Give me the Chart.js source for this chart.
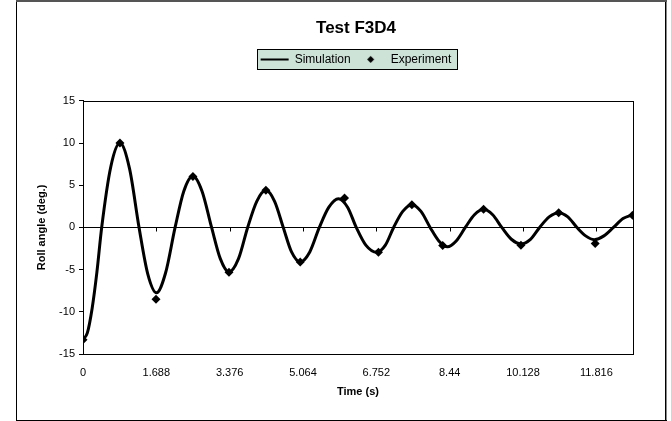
<!DOCTYPE html>
<html><head><meta charset="utf-8">
<script src="https://cdn.jsdelivr.net/npm/chart.js@4/dist/chart.umd.min.js"></script>
<style>html,body{margin:0;padding:0;background:#fff;}#wrap{width:671px;height:421px;position:relative;}canvas{display:block;}</style>
</head><body><div id="wrap"><canvas id="c" width="671" height="421"></canvas></div>
<script>
const chartTitle = 'Test F3D4';
const xTitle = 'Time (s)';
const yTitle = 'Roll angle (deg.)';
const seriesNames = ['Simulation', 'Experiment'];

const simTime = [0, 0.1, 0.21, 0.32, 0.43, 0.64, 0.85, 1.07, 1.29, 1.49, 1.69, 1.90, 2.12, 2.32, 2.53, 2.74, 2.96, 3.16, 3.36, 3.58, 3.79, 4.00, 4.21, 4.41, 4.61, 4.80, 5.00, 5.22, 5.44, 5.66, 5.88, 6.09, 6.29, 6.51, 6.76, 6.96, 7.15, 7.36, 7.57, 7.78, 7.99, 8.19, 8.39, 8.59, 8.80, 9.01, 9.22, 9.43, 9.64, 9.86, 10.08, 10.30, 10.51, 10.73, 10.95, 11.16, 11.37, 11.57, 11.77, 11.99, 12.21, 12.43, 12.65];
const simAngle = [-13.3, -12.5, -9.6, -5.3, 0, 7.2, 10.0, 7.0, 0, -5.5, -7.75, -5.4, 0, 4.3, 6.1, 4.3, 0, -3.7, -5.3, -3.7, 0, 3.1, 4.4, 3.1, 0, -2.9, -4.1, -2.9, 0, 2.4, 3.4, 2.4, 0, -2.1, -2.95, -2.1, 0, 1.9, 2.7, 1.9, 0, -1.6, -2.3, -1.6, 0, 1.5, 2.15, 1.5, 0, -1.4, -1.95, -1.4, 0, 1.25, 1.75, 1.25, 0, -1.0, -1.45, -1.0, 0, 1.05, 1.5];

const expTime = [0, 0.85, 1.68, 2.53, 3.36, 4.21, 5.00, 6.02, 6.80, 7.57, 8.28, 9.22, 10.08, 10.95, 11.79, 12.65];
const expAngle = [-13.3, 10.0, -8.5, 6.05, -5.3, 4.4, -4.1, 3.5, -2.95, 2.7, -2.15, 2.15, -2.1, 1.75, -1.9, 1.45];

const xTickValues = [0, 1.688, 3.376, 5.064, 6.752, 8.44, 10.128, 11.816];
const xTickLabels = ['0', '1.688', '3.376', '5.064', '6.752', '8.44', '10.128', '11.816'];
const yTickValues = [-15, -10, -5, 0, 5, 10, 15];

const FONT = "'Liberation Sans', Arial, Helvetica, sans-serif";
Chart.defaults.font.family = FONT;
Chart.defaults.color = '#000';

// small diamond image for legend entry
const diamondImg = document.createElement('canvas');
diamondImg.width = 9; diamondImg.height = 9;
(function(){ const g = diamondImg.getContext('2d'); g.fillStyle = '#000'; g.beginPath(); g.moveTo(4.5, 1); g.lineTo(8, 4.5); g.lineTo(4.5, 8); g.lineTo(1, 4.5); g.closePath(); g.fill(); })();

const LEGEND_EXTRA = 25.5;

const decor = {
  id: 'decor',
  beforeUpdate(chart) {
    const lg = chart.legend;
    if (lg && !lg._patched) {
      const f = lg.fit;
      lg.fit = function () { f.call(this); this.height += LEGEND_EXTRA; };
      lg._patched = true;
    }
  },
  afterLayout(chart) {
    const a = chart.chartArea;
    [chart.titleBlock, chart.legend].forEach(b => { if (b) { b.left = a.left - 2; b.right = a.right - 2; b.width = a.right - a.left; } });
  },
  beforeDraw(chart) {
    const c = chart.ctx;
    c.save();
    c.fillStyle = '#fff'; c.fillRect(0, 0, chart.width, chart.height);
    // outer chart border
    c.fillStyle = '#000';
    c.fillRect(16, 0, 1, 421);
    c.fillRect(665, 0, 1, 421);
    c.fillStyle = '#888'; c.fillRect(666, 0, 1, 421);
    c.fillStyle = '#000'; c.fillRect(16, 420, 651, 1);
    c.fillStyle = '#555'; c.fillRect(16, 0, 651, 2);
    // legend box
    const hb = chart.legend && chart.legend.legendHitBoxes;
    if (hb && hb.length) {
      const left = Math.min(...hb.map(h => h.left)) - 4;
      const right = Math.max(...hb.map(h => h.left + h.width)) + 5;
      const cy = hb[0].top + hb[0].height / 2;
      const top = Math.round(cy - 10), bottom = Math.round(cy + 10);
      c.fillStyle = '#cde3d8';
      c.fillRect(Math.round(left), top, Math.round(right - left), bottom - top);
      c.strokeStyle = '#000'; c.lineWidth = 1;
      c.strokeRect(Math.round(left) + 0.5, top + 0.5, Math.round(right - left), bottom - top);
    }
    c.restore();
  },
  beforeDatasetsDraw(chart) {
    const c = chart.ctx, a = chart.chartArea, xs = chart.scales.x, ys = chart.scales.y;
    c.save();
    c.strokeStyle = '#000'; c.lineWidth = 1;
    c.strokeRect(Math.round(a.left) + 0.5, Math.round(a.top) + 0.5, Math.round(a.right - a.left), Math.round(a.bottom - a.top));
    const y0 = Math.round(ys.getPixelForValue(0)) + 0.5;
    c.beginPath();
    xs.ticks.forEach(t => {
      const x = Math.round(xs.getPixelForValue(t.value)) + 0.5;
      c.moveTo(x, y0); c.lineTo(x, y0 + 4);
    });
    c.stroke();
    c.restore();
  }
};

new Chart(document.getElementById('c'), {
  type: 'line',
  data: {
    datasets: [
      {
        label: seriesNames[0],
        data: simTime.map((t, i) => ({ x: t, y: simAngle[i] })),
        borderColor: '#000', backgroundColor: '#000', borderWidth: 3,
        pointRadius: 0, cubicInterpolationMode: 'monotone', fill: false
      },
      {
        label: seriesNames[1],
        data: expTime.map((t, i) => ({ x: t, y: expAngle[i] })),
        showLine: false, pointStyle: 'rectRot', pointRadius: 4.5,
        backgroundColor: '#000', borderColor: '#000', borderWidth: 0
      }
    ]
  },
  options: {
    responsive: false, animation: false, devicePixelRatio: 1,
    layout: { padding: { left: 30, right: 38, top: 5, bottom: 16 } },
    plugins: {
      title: { display: true, text: chartTitle, color: '#000', font: { size: 17, weight: 'bold' }, padding: { top: 13, bottom: 9 } },
      legend: {
        display: true,
        labels: {
          usePointStyle: true, pointStyleWidth: 28, padding: 6, color: '#000', font: { size: 12 },
          generateLabels(chart) {
            const items = Chart.defaults.plugins.legend.labels.generateLabels(chart);
            items.forEach(it => {
              if (it.datasetIndex === 0) { it.pointStyle = 'line'; it.lineWidth = 2; it.strokeStyle = '#000'; }
              else { it.pointStyle = diamondImg; }
            });
            return items;
          }
        }
      },
      tooltip: { enabled: false }
    },
    scales: {
      x: {
        type: 'linear', min: 0, max: 12.66,
        afterBuildTicks: s => { s.ticks = xTickValues.map(v => ({ value: v })); },
        afterFit: s => { s.height = 51; },
        ticks: { callback: (v, i) => xTickLabels[i], color: '#000', font: { size: 11 }, padding: 12, maxRotation: 0, autoSkip: false },
        grid: { display: false, drawTicks: false },
        border: { display: true, color: '#000', width: 1 },
        title: { display: true, text: xTitle, color: '#000', font: { size: 11, weight: 'bold' }, padding: { top: 6, bottom: 6 } }
      },
      y: {
        min: -15, max: 15,
        afterBuildTicks: s => { s.ticks = yTickValues.map(v => ({ value: v })); },
        afterFit: s => { s.width = 53; },
        ticks: { color: '#000', font: { size: 11 }, padding: 4 },
        grid: { color: c => (c.tick && c.tick.value === 0) ? '#000' : 'rgba(0,0,0,0)', tickColor: '#000', tickLength: 4, lineWidth: 1 },
        border: { display: true, color: '#000', width: 1 },
        title: { display: true, text: yTitle, color: '#000', font: { size: 11, weight: 'bold' }, padding: { top: 5, bottom: 5 } }
      }
    }
  },
  plugins: [decor]
});
</script>
</body></html>
